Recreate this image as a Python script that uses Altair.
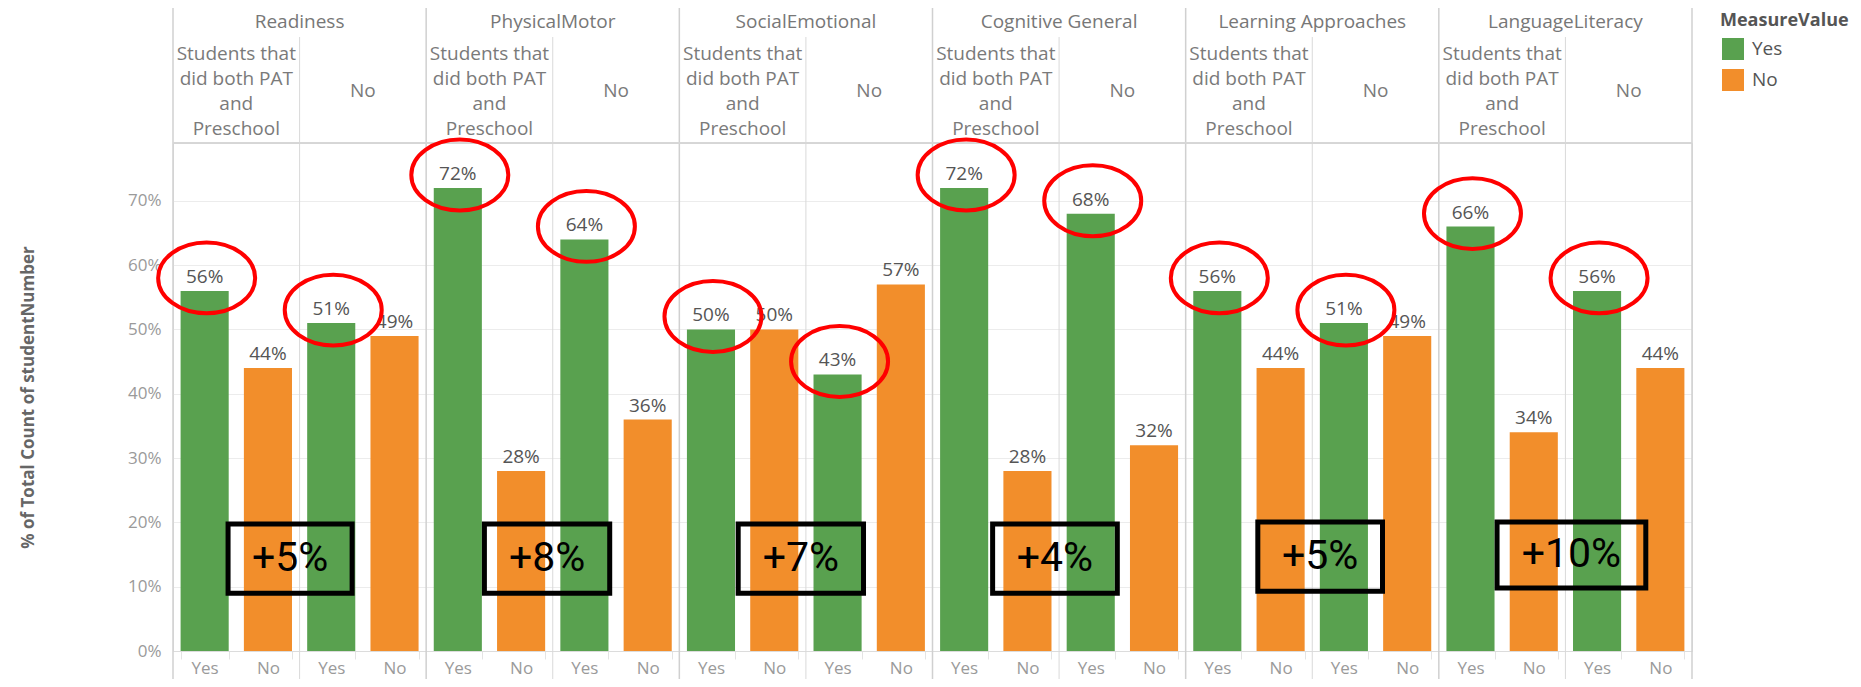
import altair as alt
import pandas as pd

# ---------------- data ----------------
categories = ["Readiness", "PhysicalMotor", "SocialEmotional",
              "Cognitive General", "Learning Approaches", "LanguageLiteracy"]
group_labels = ["Students that\ndid both PAT\nand\nPreschool", "No"]
measure_values = ["Yes", "No"]

# share of students per measure value, group "Students that did both PAT and Preschool"
pat_yes = [0.56, 0.72, 0.50, 0.72, 0.56, 0.66]
pat_no = [0.44, 0.28, 0.50, 0.28, 0.44, 0.34]
# group "No"
nopat_yes = [0.51, 0.64, 0.43, 0.68, 0.51, 0.56]
nopat_no = [0.49, 0.36, 0.57, 0.32, 0.49, 0.44]

# hand-drawn annotation boxes (difference between the two green bars)
diff_labels = ["+5%", "+8%", "+7%", "+4%", "+5%", "+10%"]
box_left = [0.87, 0.92, 0.93, 0.95, 1.14, 0.92]     # bar-slot units from category start
box_right = [2.83, 2.90, 2.91, 2.92, 3.11, 3.27]
box_bottom = [0.090, 0.090, 0.090, 0.090, 0.093, 0.098]
box_top = [0.1975, 0.1975, 0.1975, 0.1975, 0.2006, 0.2006]

GREEN = "#59a14f"
ORANGE = "#f28e2b"
W, H = 1519, 508
NSLOT = len(categories) * 4

rows, keys = [], []
for i, cat in enumerate(categories):
    vals = [[pat_yes[i], pat_no[i]], [nopat_yes[i], nopat_no[i]]]
    for g in range(2):
        for m in range(2):
            key = f"{cat}|{g}|{measure_values[m]}"
            keys.append(key)
            rows.append({"key": key, "category": cat, "group": g,
                         "measure": measure_values[m], "value": vals[g][m]})
df = pd.DataFrame(rows)

cat_df = pd.DataFrame({"category": categories,
                       "center": [4 * i + 2 for i in range(len(categories))]})
grp0_df = pd.DataFrame({"label": [group_labels[0]] * len(categories),
                        "center": [4 * i + 1 for i in range(len(categories))]})
grp1_df = pd.DataFrame({"label": [group_labels[1]] * len(categories),
                        "center": [4 * i + 3 for i in range(len(categories))]})
catline_df = pd.DataFrame({"pos": [4 * i for i in range(len(categories) + 1)]})
grpline_df = pd.DataFrame({"pos": [4 * i + 2 for i in range(len(categories))]})
box_df = pd.DataFrame({
    "label": diff_labels,
    "x0": [4 * i + box_left[i] for i in range(len(categories))],
    "x1": [4 * i + box_right[i] for i in range(len(categories))],
    "y0": box_bottom,
    "y1": box_top,
})
box_df["xc"] = (box_df["x0"] + box_df["x1"]) / 2
box_df["yc"] = (box_df["y0"] + box_df["y1"]) / 2

# ---------------- scales / axes ----------------
band_scale = alt.Scale(domain=keys, paddingInner=0.24, paddingOuter=0.12)
lin = alt.Scale(domain=[0, NSLOT], nice=False, zero=False)
yscale = alt.Scale(domain=[0, 0.79], nice=False, zero=True)
yaxis = alt.Axis(title="% of Total Count of studentNumber", format=".0%",
                 values=[0, 0.1, 0.2, 0.3, 0.4, 0.5, 0.6, 0.7],
                 domain=False, ticks=False, tickSize=0, labelPadding=12,
                 labelColor="#9a9a9a", labelFontSize=17,
                 gridColor="#ececec", gridWidth=1,
                 titleColor="#666666", titleFontSize=17, titleFontWeight="bold",
                 titleX=-145, titleY=H / 2, titleBaseline="middle", titleAngle=270)

xaxis = alt.Axis(title=None, labelExpr="split(datum.label, '|')[2]", labelAngle=0,
                 labelOverlap=False, tickBand="extent", ticks=True, tickSize=8,
                 tickColor="#e4e4e4", domainColor="#dcdcdc", labelColor="#9a9a9a",
                 labelFontSize=17, labelPadding=1, grid=False)

ELLIPSE = ("M-1,0 C-1,-0.403 -0.552,-0.73 0,-0.73 C0.552,-0.73 1,-0.403 1,0 "
           "C1,0.403 0.552,0.73 0,0.73 C-0.552,0.73 -1,0.403 -1,0 Z")

bars = alt.Chart(df).mark_bar().encode(
    x=alt.X("key:N", sort=keys, scale=band_scale, axis=xaxis),
    y=alt.Y("value:Q", scale=yscale, axis=yaxis),
    color=alt.Color("measure:N",
                    scale=alt.Scale(domain=measure_values, range=[GREEN, ORANGE]),
                    legend=alt.Legend(title="MeasureValue", orient="none",
                                      legendX=1547, legendY=-131,
                                      titleFontSize=18, titleColor="#555555",
                                      titleFontWeight="bold", titlePadding=8,
                                      labelFontSize=19, labelColor="#555555",
                                      symbolType="square", symbolSize=484,
                                      symbolStrokeWidth=0, rowPadding=9,
                                      labelOffset=8, symbolOffset=2)),
)

value_labels = alt.Chart(df).mark_text(baseline="alphabetic", dy=-8,
                                       fontSize=19, color="#555555").encode(
    x=alt.X("key:N", sort=keys, scale=band_scale, axis=None),
    y=alt.Y("value:Q", scale=yscale, axis=yaxis),
    text=alt.Text("value:Q", format=".0%"),
)

ellipses = alt.Chart(df).transform_filter(alt.datum.measure == "Yes").mark_point(
    shape=ELLIPSE, filled=False, stroke="#ff0000", strokeWidth=4, opacity=1,
    size=9409, xOffset=2, yOffset=-13).encode(
    x=alt.X("key:N", sort=keys, scale=band_scale, axis=None),
    y=alt.Y("value:Q", scale=yscale, axis=yaxis),
)

boxes = alt.Chart(box_df).mark_rect(fillOpacity=0, stroke="black", strokeWidth=5).encode(
    x=alt.X("x0:Q", scale=lin, axis=None), x2="x1:Q",
    y=alt.Y("y0:Q", scale=yscale, axis=yaxis), y2="y1:Q",
)

box_text = alt.Chart(box_df).mark_text(font="Roboto", fontSize=41,
                                       color="black", baseline="middle").encode(
    x=alt.X("xc:Q", scale=lin, axis=None),
    y=alt.Y("yc:Q", scale=yscale, axis=yaxis),
    text="label:N",
)

top_line = alt.Chart(cat_df).mark_rule(color="#d6d6d6", strokeWidth=1).encode(
    x=alt.value(0), x2=alt.value(W), y=alt.value(0))

cat_lines = alt.Chart(catline_df).mark_rule(color="#d0d0d0", strokeWidth=1.5).encode(
    x=alt.X("pos:Q", scale=lin, axis=None), y=alt.value(-138), y2=alt.value(H + 40))

grp_lines = alt.Chart(grpline_df).mark_rule(color="#d9d9d9", strokeWidth=1).encode(
    x=alt.X("pos:Q", scale=lin, axis=None), y=alt.value(-106), y2=alt.value(H + 40))

cat_text = alt.Chart(cat_df).mark_text(fontSize=19, color="#777777", baseline="middle").encode(
    x=alt.X("center:Q", scale=lin, axis=None), y=alt.value(-121), text="category:N")

grp0_text = alt.Chart(grp0_df).mark_text(fontSize=19, color="#7a7a7a", baseline="middle",
                                         lineBreak="\n", lineHeight=25).encode(
    x=alt.X("center:Q", scale=lin, axis=None), y=alt.value(-89), text="label:N")

grp1_text = alt.Chart(grp1_df).mark_text(fontSize=19, color="#7a7a7a", baseline="middle").encode(
    x=alt.X("center:Q", scale=lin, axis=None), y=alt.value(-52), text="label:N")

chart = alt.layer(
    cat_lines, grp_lines, top_line, bars, value_labels, ellipses, boxes, box_text,
    cat_text, grp0_text, grp1_text,
).resolve_scale(x="independent").properties(
    width=W, height=H,
    autosize=alt.AutoSizeParams(type="none"),
    padding={"left": 165, "top": 135, "right": 161, "bottom": 28},
).configure_view(strokeWidth=0).configure(font="Open Sans")

chart.save("out.html", embed_options={"renderer": "svg", "actions": False})
